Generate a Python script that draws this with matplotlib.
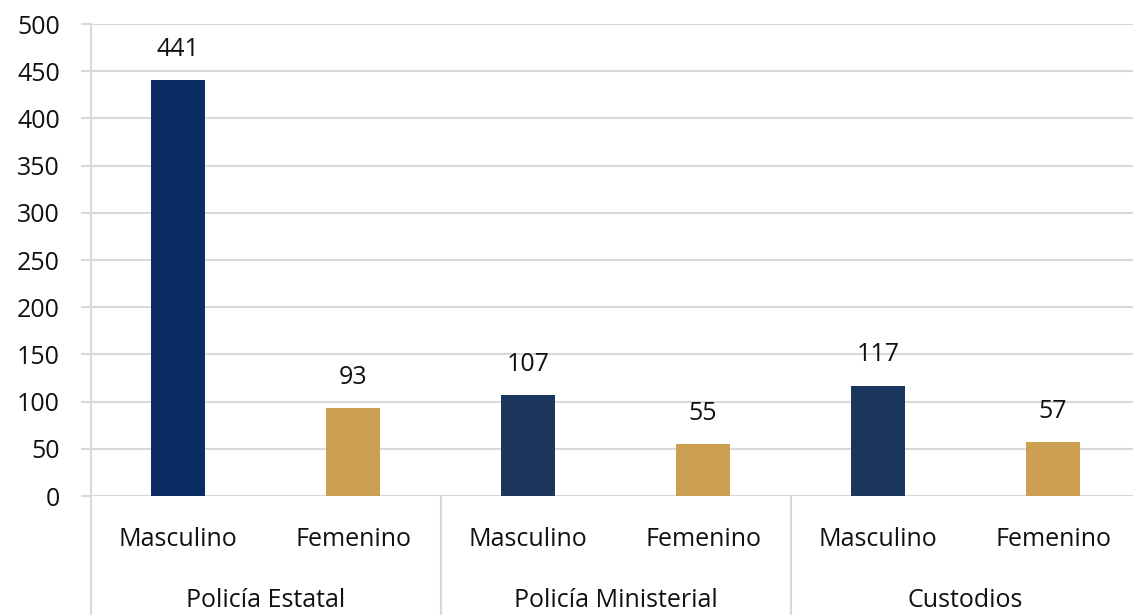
import matplotlib
matplotlib.use("Agg")
from matplotlib import pyplot as plt

plt.rcParams['font.family'] = ['Open Sans', 'DejaVu Sans']

groups = ["Policía Estatal", "Policía Ministerial", "Custodios"]
sexes = ["Masculino", "Femenino"]
values = [441, 93, 107, 55, 117, 57]
colors = ["#0c2d64", "#cd9f52", "#1a365d", "#cd9f52", "#1a365d", "#cd9f52"]

grid_c = "#d9d9d9"
fs = 18

fig = plt.figure(figsize=(11.33, 6.15), dpi=100)
ax = fig.add_axes([90.5 / 1133, 119 / 615, 1050 / 1133, 472 / 615])

x = list(range(len(values)))
ax.bar(x, values, width=0.314, color=colors, zorder=3)

for xi, v in zip(x, values):
    ax.annotate(str(v), (xi, v), xytext=(0, 22), textcoords="offset points",
                ha="center", va="center", fontsize=fs, color="#111111")

ax.set_xlim(-0.5, len(values) - 0.5)
ax.set_ylim(0, 500)
ax.set_yticks(range(0, 501, 50))
ax.yaxis.grid(True, color=grid_c, linewidth=1.5, zorder=0)
ax.tick_params(axis="y", length=7, color=grid_c, width=1.5, labelsize=fs, pad=15, labelcolor="#111111")
ax.set_xticks([])
for s in ax.spines.values():
    s.set_visible(False)
ax.axhline(0, color=grid_c, linewidth=1.5, zorder=2)

# left axis line and group separators reaching below the plot
tr = ax.get_xaxis_transform()
for sx in [-0.5, 1.5, 3.5]:
    top = 1.0 if sx == -0.5 else 0.0
    ax.plot([sx, sx], [top, -0.27], color=grid_c, linewidth=1.5, transform=tr, clip_on=False)

for xi in x:
    ax.annotate(sexes[xi % 2], (xi, 0), xycoords=tr, xytext=(0, -31.5), textcoords="offset points",
                ha="center", va="center", fontsize=fs, color="#111111")

for gi, g in enumerate(groups):
    ax.annotate(g, (gi * 2 + 0.5, 0), xycoords=tr, xytext=(0, -75), textcoords="offset points",
                ha="center", va="center", fontsize=fs, color="#111111")

fig.savefig("out.png", dpi=100)
